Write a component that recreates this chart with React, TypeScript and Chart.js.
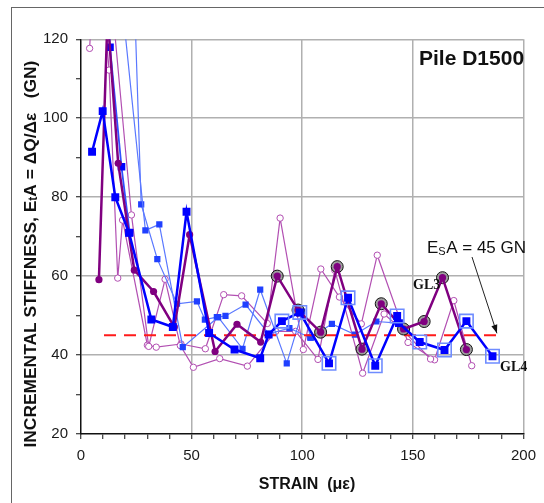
import React, { useEffect, useRef } from "react";
import { Chart, registerables } from "chart.js";
Chart.register(...registerables);

// ---- data (strain µε, stiffness GN) ----
const xTickLabels = [0, 50, 100, 150, 200];
const yTickLabels = [20, 40, 60, 80, 100, 120];
const esaValue = 45;
const esaRange = [10.4, 189.8];

const gl4 = [
  [5, 91.5], [9.8, 101.8], [15.5, 80], [21.7, 71], [31.8, 49], [41.5, 47.1], [47.7, 76.3],
  [57.9, 45.6], [69.4, 41.4], [81, 39.2], [84.8, 45.2], [90.8, 48.6], [98.9, 50.8],
  [112.1, 37.9], [120.7, 54.5], [133, 37.3], [142.9, 49.9], [143.7, 48.1], [153.1, 43.3],
  [164.3, 41.3], [174.2, 48.6], [186, 39.7],
];
const gl4Marked = [90.8, 98.9, 112.1, 120.7, 133, 142.9, 153.1, 164.3, 174.2, 186];

const gl3 = [
  [8.1, 59.1], [12, 126], [16.8, 88.6], [24.1, 61.5], [32.8, 56.1], [42.2, 47.1], [49.1, 70.5],
  [60.6, 40.9], [70.5, 47.8], [81.2, 43.3], [88.7, 60], [98.1, 51.4], [108.3, 45.8],
  [115.8, 62.4], [127, 41.5], [135.7, 53], [145.8, 46.6], [155.1, 48.5], [163.4, 59.6], [174.2, 41.4],
];
const gl3Marked = [88.7, 98.1, 108.3, 115.8, 127, 135.7, 145.8, 155.1, 163.4, 174.2];

const blueThinA = [
  [23, 150], [27.2, 78.2], [34.5, 64.3], [43.4, 53], [52.4, 53.6], [56, 49], [61.4, 49.6],
  [65.3, 49.9], [74.4, 52.8], [84.8, 45.4], [94.2, 46.8], [103.6, 44.4], [113.4, 47.9],
  [123.8, 45.2], [133.5, 48.5], [143.7, 48.1],
];
const blueThinB = [
  [17.5, 135], [29.1, 71.6], [35.4, 73.1], [46, 42], [62, 49.6],
  [73, 41.6], [81, 56.6], [93, 37.9], [100, 51], [104, 44.4],
];
const blueThinC = [[11.5, 140], [13.1, 118], [18.3, 87.7], [22, 71]];

const purpleThinA = [
  [3.9, 117.7], [7, 150], [12.7, 112.2], [16.6, 59.5], [18.8, 74.2], [30, 42.5], [34, 42],
  [45.2, 42.8], [56.2, 41.6], [64.5, 55.3], [72.6, 55], [84.2, 48], [90, 74.7], [100.5, 41.4],
  [108.4, 61.8], [116.8, 54.7], [126.7, 47.9], [133.9, 65.3], [147.8, 43.2], [159.8, 38.8],
  [168.5, 53.8], [176.6, 37.3],
];
const purpleThinB = [
  [9, 160], [22.8, 75.5], [30.6, 42.2], [38, 59.2], [44.9, 42.4], [50.8, 36.9], [62.7, 39.1],
  [75.2, 37.2], [88, 46], [97, 46], [107.1, 38.9], [114.7, 61.5], [127.3, 35.4], [137, 50.4],
  [146, 46], [158, 39],
];

const toPts = (a: number[][]) => a.map(([x, y]) => ({ x, y }));

export default function App() {
  const ref = useRef<HTMLCanvasElement | null>(null);
  useEffect(() => {
    document.body.style.margin = "0";
    const canvas = ref.current!;
    const SANS = "'Liberation Sans', Arial, sans-serif";
    const SERIF = "'Liberation Serif', 'Times New Roman', serif";

    const decor = {
      id: "decor",
      afterDraw(chart: any) {
        const ctx = chart.ctx as CanvasRenderingContext2D;
        const xs = chart.scales.x, ys = chart.scales.y;
        ctx.save();
        // outer frame
        ctx.strokeStyle = "#666";
        ctx.lineWidth = 1;
        ctx.strokeRect(11.5, 7.5, 600, 600);
        ctx.fillStyle = "#111";
        ctx.textBaseline = "middle";
        // Pile label
        ctx.font = `bold 21px ${SANS}`;
        ctx.textAlign = "left";
        ctx.fillText("Pile D1500", 419, 59);
        // EsA label
        ctx.font = `17px ${SANS}`;
        let x = 427;
        const y0 = 248;
        ctx.fillText("E", x, y0); x += ctx.measureText("E").width;
        ctx.font = `11px ${SANS}`;
        ctx.fillText("S", x, y0 + 4); x += ctx.measureText("S").width + 0.5;
        ctx.font = `17px ${SANS}`;
        ctx.fillText("A = " + esaValue + " GN", x, y0);
        // arrow
        const ax0 = 472, ay0 = 257;
        const ax1 = xs.getPixelForValue(188), ay1 = ys.getPixelForValue(esaValue) - 2;
        ctx.strokeStyle = "#222";
        ctx.lineWidth = 1;
        ctx.beginPath(); ctx.moveTo(ax0, ay0); ctx.lineTo(ax1, ay1); ctx.stroke();
        const ang = Math.atan2(ay1 - ay0, ax1 - ax0);
        ctx.beginPath();
        ctx.moveTo(ax1, ay1);
        ctx.lineTo(ax1 - 9 * Math.cos(ang - 0.35), ay1 - 9 * Math.sin(ang - 0.35));
        ctx.lineTo(ax1 - 9 * Math.cos(ang + 0.35), ay1 - 9 * Math.sin(ang + 0.35));
        ctx.closePath(); ctx.fillStyle = "#111"; ctx.fill();
        // GL labels
        ctx.font = `bold 14px ${SERIF}`;
        ctx.fillText("GL3", 413, 285);
        ctx.fillText("GL4", 500, 367);
        // x title
        ctx.font = `bold 16px ${SANS}`;
        ctx.textAlign = "center";
        ctx.fillText("STRAIN  (\u03bc\u03b5)", 307, 485);
        // y title with subscript
        ctx.translate(31, 254);
        ctx.rotate(-Math.PI / 2);
        const parts: [string, number, number][] = [
          ["INCREMENTAL STIFFNESS, E", 1, 0],
          ["t", 0.7, 3],
          ["A = \u0394Q/\u0394\u03b5   (GN)", 1, 0],
        ];
        const base = 14;
        let tot = 0;
        for (const [t, s] of parts) { ctx.font = `bold ${base * s}px ${SANS}`; tot += ctx.measureText(t).width; }
        const k = 387 / tot;
        tot *= k;
        let px = -tot / 2;
        ctx.textAlign = "left";
        for (const [t, s, dy] of parts) {
          ctx.font = `bold ${base * s * k}px ${SANS}`;
          ctx.fillText(t, px, dy);
          px += ctx.measureText(t).width;
        }
        ctx.restore();
      },
    };

    const thinPurple = (data: number[][], order: number) => ({
      data: toPts(data), showLine: true, borderColor: "#b24fb2", borderWidth: 1.2,
      pointStyle: "circle", pointRadius: 3.2, pointBackgroundColor: "#ffffff",
      pointBorderColor: "#b24fb2", pointBorderWidth: 1, order,
    });
    const thinBlue = (data: number[][], order: number) => ({
      data: toPts(data), showLine: true, borderColor: "#5a78ff", borderWidth: 1.2,
      pointStyle: "rect", pointRadius: 4.4, pointBackgroundColor: "#2040ff",
      pointBorderColor: "#2040ff", pointBorderWidth: 0, order,
    });

    const chart = new Chart(canvas, {
      type: "scatter",
      data: {
        datasets: [
          thinPurple(purpleThinA, 20) as any,
          thinPurple(purpleThinB, 19) as any,
          thinBlue(blueThinA, 18) as any,
          thinBlue(blueThinB, 17) as any,
          { ...(thinBlue(blueThinC, 17) as any), pointRadius: 5.4, pointBackgroundColor: "#0000ff", borderColor: "#3050ff", borderWidth: 1.8 },
          {
            data: esaRange.map((x) => ({ x, y: esaValue })), showLine: true, borderColor: "#ff1a1a",
            borderWidth: 2, borderDash: [12, 8], pointRadius: 0, order: 16,
          },
          {
            data: toPts(gl3.filter(([x]) => gl3Marked.includes(x))), showLine: false,
            pointStyle: "circle", pointRadius: 6, pointBackgroundColor: "rgba(135,135,135,0.8)",
            pointBorderColor: "#111", pointBorderWidth: 1, order: 15,
          },
          {
            data: toPts(gl3), showLine: true, borderColor: "#800080", borderWidth: 2.5,
            pointStyle: "circle", pointRadius: 3.6, pointBackgroundColor: "#800080",
            pointBorderColor: "#800080", pointBorderWidth: 0, order: 14,
          },
          {
            data: toPts(gl4), showLine: true, borderColor: "#0000ff", borderWidth: 2.5,
            pointStyle: "rect", pointRadius: 5.6, pointBackgroundColor: "#0000ff",
            pointBorderColor: "#0000ff", pointBorderWidth: 0, order: 13,
          },
          {
            data: toPts(gl4.filter(([x]) => gl4Marked.includes(x))), showLine: false,
            pointStyle: "rect", pointRadius: 9.5, pointBackgroundColor: "rgba(0,0,0,0)",
            pointBorderColor: "#6f8cff", pointBorderWidth: 1.6, order: 12,
          },
        ],
      },
      options: {
        responsive: false,
        animation: false,
        events: [],
        layout: { padding: { left: 0, top: 39.3, right: 16.3, bottom: 0 } },
        plugins: { legend: { display: false }, tooltip: { enabled: false } },
        scales: {
          x: {
            type: "linear", min: 0, max: 200,
            afterFit: (s: any) => { s.height = 69; },
            ticks: {
              stepSize: 10, autoSkip: false, maxRotation: 0, padding: 8, color: "#1a1a1a",
              font: { family: SANS, size: 15 },
              callback: (v: any) => (xTickLabels.includes(Number(v)) ? String(v) : ""),
            },
            grid: {
              color: (c: any) => (c.tick && xTickLabels.includes(c.tick.value) && c.tick.value !== 0 ? "#b0b0b0" : "rgba(0,0,0,0)"),
              lineWidth: 1.5, tickColor: "#111", tickLength: 5, tickWidth: 1,
            },
            border: { color: "#111", width: 1.5 },
          },
          y: {
            type: "linear", min: 20, max: 120,
            afterFit: (s: any) => { s.width = 81; },
            ticks: {
              stepSize: 10, autoSkip: false, padding: 8, color: "#1a1a1a",
              font: { family: SANS, size: 15 },
              callback: (v: any) => (yTickLabels.includes(Number(v)) ? String(v) : ""),
            },
            grid: {
              color: (c: any) => (c.tick && yTickLabels.includes(c.tick.value) && c.tick.value !== 20 ? "#b0b0b0" : "rgba(0,0,0,0)"),
              lineWidth: 1.5, tickColor: "#111", tickLength: 5, tickWidth: 1,
            },
            border: { color: "#111", width: 1.5 },
          },
        },
      } as any,
      plugins: [decor],
    });
    return () => chart.destroy();
  }, []);
  return <canvas ref={ref} width={544} height={503} style={{ display: "block" }} />;
}
